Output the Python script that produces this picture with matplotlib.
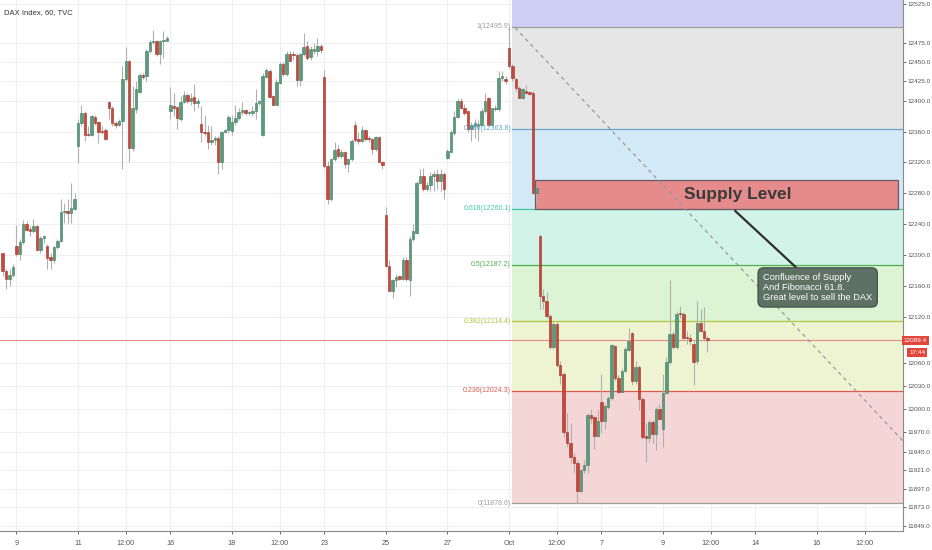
import matplotlib
matplotlib.use('Agg')
import matplotlib.pyplot as plt
import numpy as np

plt.rcParams['font.family'] = ['Liberation Sans', 'DejaVu Sans']

# hourly DAX candles (TVC)
opens = [12202, 12179, 12169, 12174, 12212, 12201, 12217, 12240, 12234, 12231,
         12238, 12206, 12222, 12212, 12197, 12193, 12210, 12218, 12256, 12257,
         12255, 12260, 12341, 12371, 12384, 12357, 12355, 12379, 12372, 12361,
         12362, 12398, 12391, 12371, 12368, 12374, 12428, 12451, 12339, 12389,
         12411, 12433, 12432, 12465, 12476, 12477, 12460, 12477, 12478, 12387,
         12393, 12392, 12376, 12398, 12407, 12400, 12405, 12397, 12370, 12360,
         12359, 12346, 12349, 12352, 12321, 12359, 12362, 12361, 12372, 12378,
         12385, 12388, 12384, 12384, 12386, 12397, 12355, 12431, 12438, 12406,
         12395, 12423, 12447, 12434, 12461, 12461, 12459, 12427, 12460, 12471,
         12457, 12464, 12464, 12471, 12431, 12315, 12272, 12324, 12337, 12328,
         12334, 12318, 12324, 12369, 12351, 12348, 12362, 12352, 12350, 12337,
         12353, 12321, 12252, 12186, 12154, 12168, 12173, 12169, 12194, 12168,
         12221, 12228, 12293, 12303, 12285, 12291, 12302, 12305, 12296, 12305,
         12326, 12334, 12358, 12379, 12400, 12391, 12386, 12363, 12367, 12367,
         12368, 12387, 12404, 12369, 12389, 12389, 12430, 12428, 12468, 12445,
         12428, 12416, 12404, 12413, 12411, 12410, 12280, 12224, 12147, 12141,
         12121, 12081, 12111, 12057, 12046, 11971, 11956, 11938, 11931, 11894,
         11921, 11928, 11993, 11990, 11965, 12010, 11985, 12003, 12015, 12082,
         12041, 12023, 12050, 12077, 12099, 12037, 12055, 12014, 11966, 11963,
         11984, 11968, 12001, 11974, 12021, 12062, 12097, 12081, 12125, 12123,
         12094, 12092, 12085, 12063, 12112, 12101, 12093]
highs = [12203, 12182, 12182, 12188, 12239, 12221, 12246, 12244, 12238, 12247,
         12239, 12225, 12226, 12214, 12203, 12212, 12221, 12272, 12268, 12272,
         12293, 12281, 12376, 12394, 12387, 12367, 12382, 12382, 12374, 12367,
         12365, 12400, 12393, 12374, 12376, 12445, 12470, 12453, 12419, 12425,
         12436, 12436, 12467, 12479, 12491, 12479, 12479, 12490, 12484, 12418,
         12410, 12393, 12406, 12412, 12410, 12410, 12421, 12404, 12393, 12382,
         12369, 12367, 12354, 12354, 12361, 12363, 12382, 12382, 12394, 12391,
         12398, 12389, 12387, 12393, 12415, 12401, 12436, 12443, 12441, 12408,
         12428, 12450, 12450, 12464, 12465, 12465, 12462, 12462, 12488, 12477,
         12471, 12475, 12481, 12473, 12440, 12322, 12326, 12346, 12343, 12337,
         12335, 12326, 12350, 12374, 12359, 12367, 12363, 12354, 12352, 12354,
         12354, 12322, 12262, 12193, 12169, 12176, 12173, 12197, 12197, 12225,
         12240, 12296, 12311, 12313, 12294, 12307, 12309, 12311, 12311, 12307,
         12337, 12362, 12387, 12404, 12403, 12396, 12387, 12372, 12376, 12375,
         12391, 12410, 12405, 12391, 12394, 12438, 12438, 12432, 12495.9, 12447,
         12430, 12419, 12417, 12420, 12412, 12412, 12290, 12227, 12156, 12152,
         12124, 12113, 12113, 12063, 12048, 11995, 11982, 11943, 11934, 11923,
         11934, 11995, 12001, 11992, 11999, 12046, 12007, 12017, 12085, 12083,
         12044, 12053, 12081, 12106, 12100, 12063, 12057, 12016, 11982, 11986,
         11986, 12003, 12007, 12046, 12068, 12167, 12102, 12128, 12134, 12126,
         12102, 12098, 12089, 12141, 12130, 12132, 12095]
lows = [12173, 12156, 12160, 12171, 12199, 12193, 12214, 12231, 12225, 12229,
        12205, 12203, 12216, 12182, 12182, 12190, 12208, 12217, 12242, 12242,
        12242, 12258, 12319, 12367, 12348, 12354, 12354, 12369, 12345, 12357,
        12349, 12376, 12367, 12365, 12367, 12312, 12425, 12320, 12335, 12384,
        12410, 12428, 12425, 12462, 12473, 12458, 12448, 12455, 12477, 12376,
        12380, 12363, 12374, 12397, 12397, 12395, 12387, 12391, 12346, 12354,
        12338, 12343, 12342, 12305, 12311, 12358, 12358, 12355, 12369, 12375,
        12382, 12382, 12382, 12380, 12376, 12395, 12354, 12430, 12404, 12394,
        12394, 12422, 12432, 12432, 12451, 12453, 12419, 12419, 12458, 12453,
        12453, 12460, 12458, 12462, 12313, 12266, 12270, 12322, 12326, 12326,
        12313, 12307, 12322, 12346, 12344, 12346, 12348, 12346, 12331, 12335,
        12320, 12311, 12185, 12153, 12144, 12158, 12167, 12167, 12166, 12147,
        12218, 12227, 12292, 12283, 12283, 12283, 12283, 12285, 12283, 12272,
        12324, 12333, 12356, 12378, 12389, 12382, 12359, 12348, 12352, 12348,
        12367, 12384, 12367, 12367, 12386, 12387, 12426, 12422, 12443, 12425,
        12412, 12403, 12402, 12409, 12408, 12279, 12266, 12130, 12130, 12119,
        12078, 12078, 12055, 12033, 11964, 11951, 11930, 11917, 11878.6, 11891,
        11917, 11917, 11982, 11949, 11964, 11969, 11975, 12001, 12012, 12037,
        12021, 12022, 12048, 12076, 12031, 12033, 11999, 11962, 11932, 11958,
        11956, 11947, 11986, 11951, 12020, 12059, 12078, 12078, 12119, 12091,
        12085, 12083, 12031, 12059, 12100, 12089, 12074]
closes = [12179, 12169, 12174, 12185, 12201, 12217, 12240, 12233, 12231, 12238,
          12206, 12222, 12224, 12196, 12193, 12210, 12218, 12256, 12257, 12255,
          12261, 12273, 12371, 12384, 12356, 12355, 12380, 12371, 12359, 12360,
          12350, 12391, 12371, 12368, 12374, 12428, 12451, 12339, 12391, 12415,
          12433, 12431, 12465, 12476, 12477, 12460, 12477, 12478, 12481, 12394,
          12391, 12378, 12398, 12407, 12400, 12404, 12397, 12400, 12359, 12358,
          12346, 12349, 12352, 12321, 12359, 12362, 12379, 12372, 12378, 12385,
          12388, 12384, 12385, 12386, 12397, 12399, 12432, 12440, 12405, 12395,
          12424, 12447, 12434, 12460, 12452, 12459, 12427, 12460, 12470, 12455,
          12467, 12467, 12471, 12466, 12315, 12272, 12324, 12336, 12328, 12334,
          12318, 12324, 12348, 12349, 12348, 12362, 12350, 12350, 12337, 12353,
          12321, 12317, 12186, 12154, 12168, 12172, 12169, 12194, 12169, 12221,
          12231, 12293, 12303, 12285, 12291, 12302, 12305, 12296, 12305, 12286,
          12335, 12360, 12379, 12400, 12391, 12384, 12363, 12368, 12371, 12370,
          12387, 12400, 12369, 12390, 12391, 12430, 12432, 12425, 12445, 12430,
          12417, 12404, 12415, 12410, 12409, 12280, 12287, 12147, 12140, 12121,
          12081, 12111, 12057, 12045, 11971, 11956, 11938, 11931, 11894, 11921,
          11928, 11993, 11989, 11965, 11985, 11985, 12004, 12015, 12083, 12040,
          12023, 12050, 12078, 12088, 12037, 12055, 12014, 11964, 11963, 11984,
          11968, 12001, 11988, 12021, 12062, 12097, 12081, 12124, 12123, 12093,
          12092, 12089, 12062, 12112, 12101, 12092, 12089.4]

# x axis: bar index of each date label
tick_pos = [4, 22, 36, 49, 67, 81, 94, 112, 130, 148, 162, 175, 193, 207, 220, 238, 252]
tick_lbl = ['9', '11', '12:00', '16', '18', '12:00', '23', '25', '27', 'Oct',
            '12:00', '7', '9', '12:00', '14', '16', '12:00']
price_ticks = [12525, 12475, 12450, 12425, 12400, 12360, 12320, 12280, 12240, 12200,
               12160, 12120, 12060, 12030, 12000, 11970, 11945, 11921, 11897, 11873, 11849]

# fibonacci retracement
fib_ratio = ['1', '0.786', '0.618', '0.5', '0.382', '0.236', '0']
fib_price = [12495.9, 12363.8, 12260.1, 12187.2, 12114.4, 12024.3, 11878.6]
fib_line = ['#9e9e9e', '#5fa6d0', '#3fc9a6', '#4caf50', '#b3c43f', '#e05a55', '#9e9e9e']
fib_fill = ['#e6e6e6', '#d3e9f6', '#d2f4e8', '#dcf3d4', '#eef4d2', '#f5d6d6']
fib_start = 148.9
top_fill = '#cfcff6'

supply_low, supply_high = 12260.1, 12297
supply_start = 155.6
trend_x = [149.8, 263.2]
trend_y = [12494.6, 11959]
last_price = 12089.4

o = np.array(opens, float)
h = np.array(highs, float)
l = np.array(lows, float)
c = np.array(closes, float)
x = np.arange(len(o))

fig = plt.figure(figsize=(9.32, 5.5), dpi=100)
ax = fig.add_axes([0, 0.0345, 0.9689, 0.9655])
xmin, xmax = -0.79, 263.2
ymin, ymax = 11842.3, 12530.5
ax.set_xlim(xmin, xmax)
ax.set_ylim(ymin, ymax)

# grid
for t in tick_pos:
    ax.axvline(t, color='#f0f0f0', lw=0.8, zorder=0)
for p in price_ticks:
    ax.axhline(p, color='#f0f0f0', lw=0.8, zorder=0)

# fib zones
ax.fill_between([fib_start, xmax], fib_price[0], ymax, color=top_fill, lw=0, zorder=1)
for i in range(len(fib_fill)):
    ax.fill_between([fib_start, xmax], fib_price[i + 1], fib_price[i],
                    color=fib_fill[i], lw=0, zorder=1)
for r, p, col in zip(fib_ratio, fib_price, fib_line):
    ax.plot([fib_start, xmax], [p, p], color=col, lw=0.9, zorder=2)
    ax.text(fib_start - 0.3, p, '%s(%.1f)' % (r, p), color=col, fontsize=5,
            ha='right', va='center', zorder=6)

# supply zone
ax.add_patch(plt.Rectangle((supply_start, supply_low), xmax - supply_start - 1.5,
                           supply_high - supply_low, facecolor='#e58b8b',
                           edgecolor='#6b5a66', lw=0.9, zorder=3))
ax.text(215, (supply_low + supply_high) / 2, 'Supply Level', fontsize=12.5,
        fontweight='bold', color='#3a3a3a', ha='center', va='center', zorder=7)

# dashed trend line
ax.plot(trend_x, trend_y, color='#9a9a9a', lw=0.9, ls=(0, (3, 3)), zorder=4)

# last price line
ax.axhline(last_price, color='#e58a8a', lw=0.8, zorder=2)

# candles
up = c >= o
body_col = np.where(up, '#5b9a7c', '#c8473a')
edge_col = np.where(up, '#3f7a5f', '#9a3026')
ax.vlines(x, l, h, color='#b0b0b0', lw=0.8, zorder=4)
ax.bar(x, np.maximum(np.abs(c - o), 1.2), bottom=np.minimum(o, c), width=0.72,
       color=body_col, edgecolor=edge_col, lw=0.4, zorder=5)

# callout
ax.annotate('Confluence of Supply\nAnd Fibonacci 61.8.\nGreat level to sell the DAX',
            xy=(214.1, 12257.3), xytext=(222.3, 12158), fontsize=6.7, color='white',
            ha='left', va='center', linespacing=1.15, zorder=8,
            bbox=dict(boxstyle='round,pad=0.55,rounding_size=0.6', fc='#5f7064',
                      ec='#3c4a40', lw=0.8),
            arrowprops=dict(arrowstyle='-', color='#2e2e2e', lw=1.6,
                            shrinkA=0, shrinkB=0))

# axes look
for s in ['top', 'left']:
    ax.spines[s].set_visible(False)
ax.spines['right'].set_color('#8a8a8a')
ax.spines['bottom'].set_color('#8a8a8a')
ax.yaxis.tick_right()
ax.set_yticks(price_ticks)
ax.set_yticklabels(['%.1f' % p for p in price_ticks])
ax.set_xticks(tick_pos)
ax.set_xticklabels(tick_lbl)
ax.tick_params(axis='x', labelsize=5.2, colors='#555555', length=2.5, width=0.6, pad=4)
ax.tick_params(axis='y', labelsize=4.6, colors='#555555', length=2, width=0.6, pad=1)

# price / time labels on the right scale
ytr = ax.get_yaxis_transform()
ax.text(1.001, last_price, '12089.4', transform=ytr, fontsize=4.6, color='white',
        ha='left', va='center', clip_on=False, zorder=9,
        bbox=dict(boxstyle='square,pad=0.3', fc='#e2463b', ec='none'))
ax.annotate('17:44', xy=(1.0, last_price), xycoords=ytr, xytext=(4.5, -9),
            textcoords='offset points', fontsize=4.6, color='white', ha='left',
            va='center', annotation_clip=False, zorder=9,
            bbox=dict(boxstyle='square,pad=0.3', fc='#e2463b', ec='none'))

fig.text(4 / 932, 1 - 13 / 550, 'DAX Index, 60, TVC', fontsize=5.5, color='#333333',
         ha='left', va='center')

fig.savefig('out.png', dpi=100)
